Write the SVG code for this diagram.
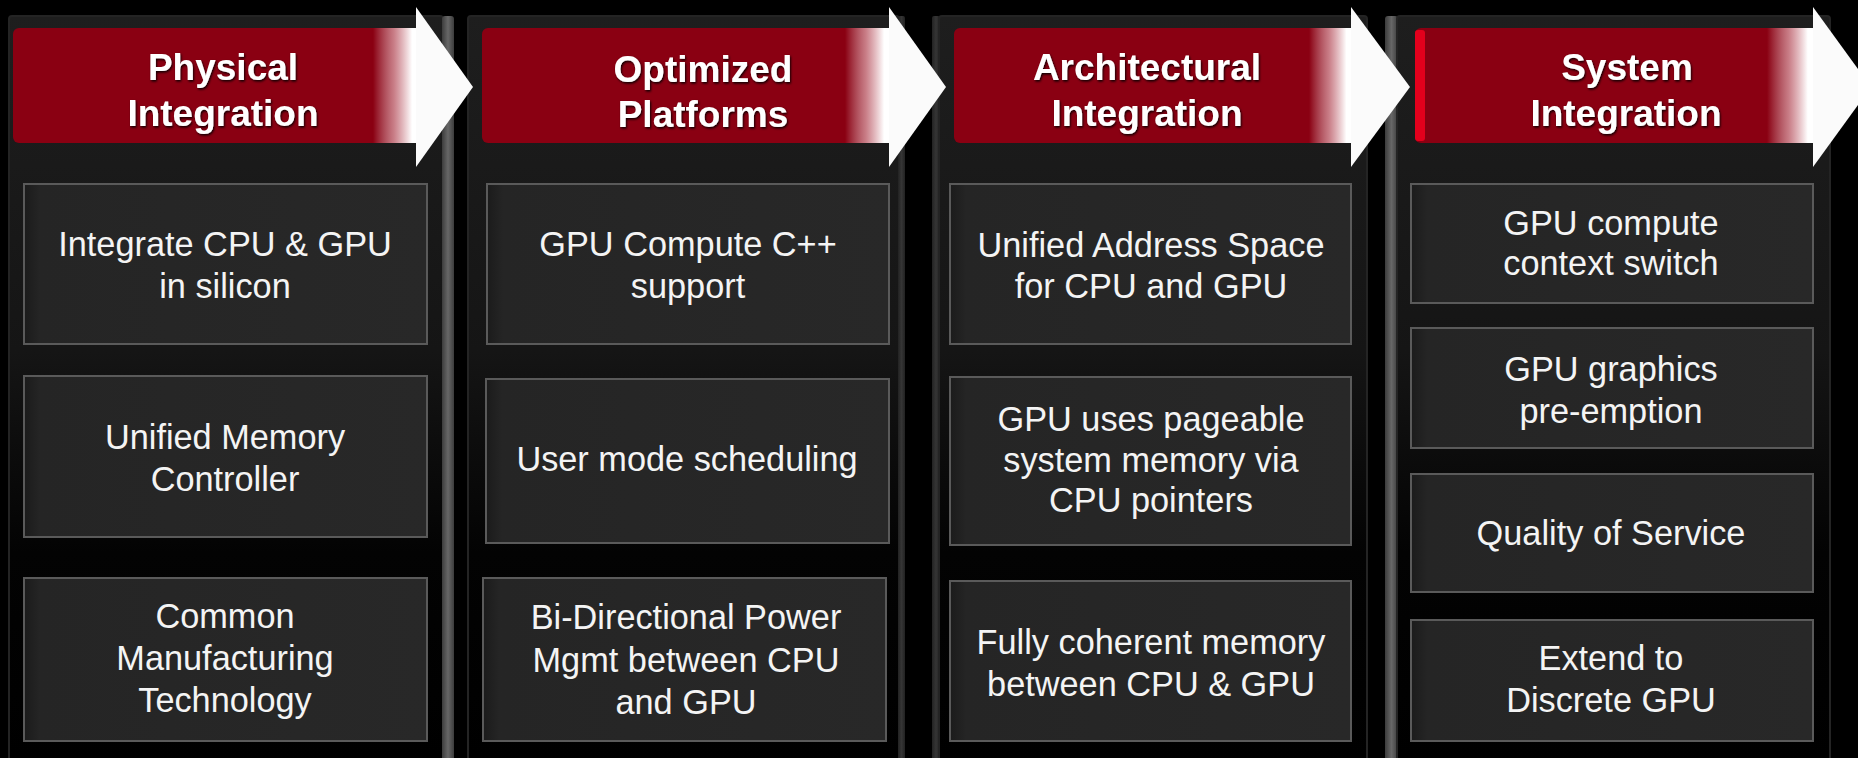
<svg xmlns="http://www.w3.org/2000/svg" width="1858" height="758" viewBox="0 0 1858 758">
  <style>
    .panel { fill: url(#panelShade); stroke: #242424; stroke-width: 2; }
    .box { fill: url(#boxShade); stroke: #5a5a5a; stroke-width: 2; }
    .banner { fill: #8a0012; }
    .fade { fill: url(#fade); }
    .arrow { fill: #fbfbfb; }
    .title { font-family: "Liberation Sans", Arial, sans-serif; font-weight: bold; font-size: 37px; fill: #ffffff; text-anchor: middle; filter: url(#shadow); }
    .body { font-family: "Liberation Sans", Arial, sans-serif; font-size: 34.3px; fill: #f4f4f4; text-anchor: middle; }
  </style>
  <defs>
    <linearGradient id="panelShade" x1="0" y1="0" x2="0" y2="1">
      <stop offset="0" stop-color="#1e1e1e"/>
      <stop offset="0.45" stop-color="#151515"/>
      <stop offset="0.72" stop-color="#030303"/>
      <stop offset="1" stop-color="#000000"/>
    </linearGradient>
    <linearGradient id="boxShade" x1="0" y1="0" x2="1" y2="0">
      <stop offset="0" stop-color="#1b1b1b"/>
      <stop offset="0.04" stop-color="#252525"/>
      <stop offset="1" stop-color="#282828"/>
    </linearGradient>
    <linearGradient id="fade" x1="0" y1="0" x2="1" y2="0">
      <stop offset="0" stop-color="#ffffff" stop-opacity="0"/>
      <stop offset="0.45" stop-color="#f2cfd3" stop-opacity="0.6"/>
      <stop offset="0.85" stop-color="#ffffff" stop-opacity="1"/>
      <stop offset="1" stop-color="#ffffff" stop-opacity="1"/>
    </linearGradient>
    <linearGradient id="bevel" x1="0" y1="0" x2="1" y2="0">
      <stop offset="0" stop-color="#3c3c3c"/>
      <stop offset="0.5" stop-color="#676767"/>
      <stop offset="1" stop-color="#3c3c3c"/>
    </linearGradient>
    <linearGradient id="bevelDark" x1="0" y1="0" x2="1" y2="0">
      <stop offset="0" stop-color="#222222"/>
      <stop offset="0.5" stop-color="#353535"/>
      <stop offset="1" stop-color="#222222"/>
    </linearGradient>
    <filter id="shadow" x="-10%" y="-30%" width="120%" height="160%">
      <feDropShadow dx="1" dy="1.5" stdDeviation="1.2" flood-color="#000000" flood-opacity="0.9"/>
    </filter>
  </defs>

  <rect width="1858" height="758" fill="#000000"/>

  <!-- Stage 1 -->
  <g id="stage-physical">
    <rect class="panel" x="9" y="16" width="434" height="745" rx="3"/>
    <rect x="442" y="16" width="12" height="745" rx="3" fill="url(#bevel)"/>
    <g id="physical-header">
      <rect class="banner" x="13" y="28" width="408" height="115" rx="6"/>
      <rect class="fade" x="373" y="28" width="46" height="115"/>
      <text class="title" x="223" y="80">Physical</text>
      <text class="title" x="223" y="126">Integration</text>
    </g>
    <g id="integrate-cpu-gpu">
      <rect class="box" x="24" y="184" width="403" height="160"/>
      <text class="body" x="225" y="256">Integrate CPU &amp; GPU</text>
      <text class="body" x="225" y="298">in silicon</text>
    </g>
    <g id="unified-memory-controller">
      <rect class="box" x="24" y="376" width="403" height="161"/>
      <text class="body" x="225" y="449">Unified Memory</text>
      <text class="body" x="225" y="491">Controller</text>
    </g>
    <g id="common-manufacturing">
      <rect class="box" x="24" y="578" width="403" height="163"/>
      <text class="body" x="225" y="628">Common</text>
      <text class="body" x="225" y="670">Manufacturing</text>
      <text class="body" x="225" y="712">Technology</text>
    </g>
  </g>

  <!-- Stage 2 -->
  <g id="stage-optimized">
    <rect class="panel" x="468" y="16" width="431" height="745" rx="3"/>
    <rect x="898" y="16" width="7" height="745" rx="2" fill="url(#bevelDark)"/>
    <g id="optimized-header">
      <rect class="banner" x="482" y="28" width="412" height="115" rx="6"/>
      <rect class="fade" x="845" y="28" width="46" height="115"/>
      <text class="title" x="703" y="82">Optimized</text>
      <text class="title" x="703" y="127">Platforms</text>
    </g>
    <g id="gpu-compute-cpp">
      <rect class="box" x="487" y="184" width="402" height="160"/>
      <text class="body" x="688" y="256">GPU Compute C++</text>
      <text class="body" x="688" y="298">support</text>
    </g>
    <g id="user-mode-scheduling">
      <rect class="box" x="486" y="379" width="403" height="164"/>
      <text class="body" x="687" y="471">User mode scheduling</text>
    </g>
    <g id="bidirectional-power">
      <rect class="box" x="483" y="578" width="403" height="163"/>
      <text class="body" x="686" y="629">Bi-Directional Power</text>
      <text class="body" x="686" y="672">Mgmt between CPU</text>
      <text class="body" x="686" y="714">and GPU</text>
    </g>
  </g>

  <!-- Stage 3 -->
  <g id="stage-architectural">
    <rect x="932" y="16" width="8" height="745" rx="2" fill="url(#bevelDark)"/>
    <rect class="panel" x="939" y="16" width="428" height="745" rx="3"/>
    <g id="architectural-header">
      <rect class="banner" x="954" y="28" width="402" height="115" rx="6"/>
      <rect class="fade" x="1309" y="28" width="44" height="115"/>
      <text class="title" x="1147" y="80">Architectural</text>
      <text class="title" x="1147" y="126">Integration</text>
    </g>
    <g id="unified-address-space">
      <rect class="box" x="950" y="184" width="401" height="160"/>
      <text class="body" x="1151" y="257">Unified Address Space</text>
      <text class="body" x="1151" y="298">for CPU and GPU</text>
    </g>
    <g id="pageable-memory">
      <rect class="box" x="950" y="377" width="401" height="168"/>
      <text class="body" x="1151" y="431">GPU uses pageable</text>
      <text class="body" x="1151" y="472">system memory via</text>
      <text class="body" x="1151" y="512">CPU pointers</text>
    </g>
    <g id="coherent-memory">
      <rect class="box" x="950" y="581" width="401" height="160"/>
      <text class="body" x="1151" y="654">Fully coherent memory</text>
      <text class="body" x="1151" y="696">between CPU &amp; GPU</text>
    </g>
  </g>

  <!-- Stage 4 -->
  <g id="stage-system">
    <rect x="1385" y="16" width="13" height="745" rx="3" fill="url(#bevel)"/>
    <rect class="panel" x="1397" y="16" width="433" height="745" rx="3"/>
    <g id="system-header">
      <rect class="banner" x="1415" y="28" width="402" height="115" rx="6"/>
      <rect x="1415" y="30" width="10" height="111" rx="3" fill="#e3001c"/>
      <rect class="fade" x="1767" y="28" width="48" height="115"/>
      <text class="title" x="1627" y="80">System</text>
      <text class="title" x="1626" y="126">Integration</text>
    </g>
    <g id="context-switch">
      <rect class="box" x="1411" y="184" width="402" height="119"/>
      <text class="body" x="1611" y="235">GPU compute</text>
      <text class="body" x="1611" y="275">context switch</text>
    </g>
    <g id="graphics-preemption">
      <rect class="box" x="1411" y="328" width="402" height="120"/>
      <text class="body" x="1611" y="381">GPU graphics</text>
      <text class="body" x="1611" y="423">pre-emption</text>
    </g>
    <g id="quality-of-service">
      <rect class="box" x="1411" y="474" width="402" height="118"/>
      <text class="body" x="1611" y="545">Quality of Service</text>
    </g>
    <g id="discrete-gpu">
      <rect class="box" x="1411" y="620" width="402" height="121"/>
      <text class="body" x="1611" y="670">Extend to</text>
      <text class="body" x="1611" y="712">Discrete GPU</text>
    </g>
  </g>

  <!-- Arrowheads that carry each stage into the next -->
  <g id="connectors">
    <polygon class="arrow" points="416,7 473,87 416,167"/>
    <polygon class="arrow" points="889,7 946,87 889,167"/>
    <polygon class="arrow" points="1351,7 1410,87 1351,167"/>
    <polygon class="arrow" points="1813,7 1871,87 1813,167"/>
  </g>
</svg>
